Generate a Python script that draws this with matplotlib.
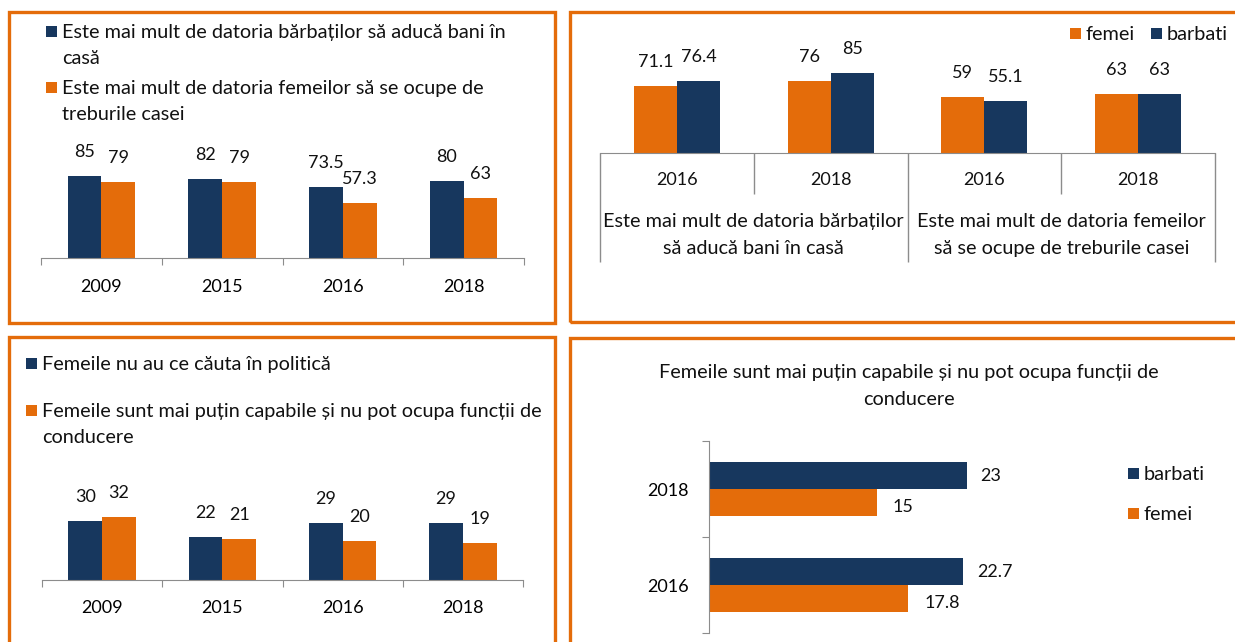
import matplotlib
matplotlib.use("Agg")
import matplotlib.pyplot as plt
from matplotlib.patches import Rectangle

# ── Data ──────────────────────────────────────────────────────────────────────
years_a = ["2009", "2015", "2016", "2018"]
bani_barbati = [85, 82, 73.5, 80]
treburi_femei = [79, 79, 57.3, 63]
label_bani = "Este mai mult de datoria bărbaților să aducă bani în\ncasă"
label_treburi = "Este mai mult de datoria femeilor să se ocupe de\ntreburile casei"

groups_b = ["Este mai mult de datoria bărbaților\nsă aducă bani în casă",
            "Este mai mult de datoria femeilor\nsă se ocupe de treburile casei"]
years_b = ["2016", "2018", "2016", "2018"]
femei_b = [71.1, 76, 59, 63]
barbati_b = [76.4, 85, 55.1, 63]

years_c = ["2009", "2015", "2016", "2018"]
politica = [30, 22, 29, 29]
conducere = [32, 21, 20, 19]
label_politica = "Femeile nu au ce căuta în politică"
label_conducere = "Femeile sunt mai puțin capabile și nu pot ocupa funcții de\nconducere"

years_d = ["2016", "2018"]
barbati_d = [22.7, 23]
femei_d = [17.8, 15]
title_d = "Femeile sunt mai puțin capabile și nu pot ocupa funcții de\nconducere"

# ── Style ─────────────────────────────────────────────────────────────────────
W, H = 1235, 642
NAVY = "#17375E"
ORANGE = "#E46C0A"
GRAY = "#8C8C8C"
NUM_FS = 13      # years and value labels
TXT_FS = 14.3    # legends, group labels, title
LS = 1.72
LINE_PX = 26     # line pitch in the legends
plt.rcParams["font.family"] = ["Lato", "DejaVu Sans"]
plt.rcParams["font.size"] = NUM_FS
plt.rcParams["text.color"] = "#111111"

fig = plt.figure(figsize=(W / 100, H / 100), dpi=100)


def axes_px(x0, y0, x1, y1):
    return fig.add_axes([x0 / W, 1 - y1 / H, (x1 - x0) / W, (y1 - y0) / H])


def border(x0, y0, x1, y1):
    fig.add_artist(Rectangle((x0 / W, 1 - y1 / H), (x1 - x0) / W, (y1 - y0) / H,
                             transform=fig.transFigure, fill=False, ec=ORANGE, lw=2.4))


def legend_entry(x, y, color, text, size=11):
    # square marker + text; y is the centre of the first text line (pixels)
    fig.add_artist(Rectangle((x / W, 1 - (y + size / 2) / H), size / W, size / H,
                             transform=fig.transFigure, color=color, lw=0))
    for k, line in enumerate(text.split("\n")):
        fig.text((x + size + 5) / W, 1 - (y + 7 + k * LINE_PX) / H, line,
                 va="baseline", ha="left", fontsize=TXT_FS)


def clean(ax):
    for s in ax.spines.values():
        s.set_visible(False)
    ax.set_yticks([])


def year_axis(ax, labels, pad_px):
    ax.spines["bottom"].set_visible(True)
    ax.spines["bottom"].set_color(GRAY)
    ax.set_xlim(-0.5, len(labels) - 0.5)
    ax.set_xticks([i - 0.5 for i in range(len(labels) + 1)])
    ax.set_xticklabels([])
    ax.tick_params(axis="x", which="major", length=5, color=GRAY, direction="out")
    ax.set_xticks(range(len(labels)), labels, minor=True)
    ax.tick_params(axis="x", which="minor", length=0, pad=pad_px * 0.72)
    for t in ax.get_xticklabels(minor=True):
        t.set_va("center")


def label_bars(ax, xs, vals):
    for x, v in zip(xs, vals):
        ax.annotate(f"{v:g}", (x, v), xytext=(0, 24), textcoords="offset pixels",
                    ha="center", va="center")


BW = 0.28

# ── Panel 1 ───────────────────────────────────────────────────────────────────
border(9, 12, 555, 323)
ax1 = axes_px(41, 162, 524, 258)
clean(ax1)
x = list(range(len(years_a)))
ax1.bar([i - BW / 2 for i in x], bani_barbati, BW, color=NAVY)
ax1.bar([i + BW / 2 for i in x], treburi_femei, BW, color=ORANGE)
ax1.set_ylim(0, 100)
year_axis(ax1, years_a, 29)
label_bars(ax1, [i - BW / 2 for i in x], bani_barbati)
label_bars(ax1, [i + BW / 2 for i in x], treburi_femei)
legend_entry(46, 31, NAVY, label_bani)
legend_entry(46, 87, ORANGE, label_treburi)

# ── Panel 2 ───────────────────────────────────────────────────────────────────
border(570, 12, 1250, 322)
ax2 = axes_px(600, 58.8, 1215, 153)
clean(ax2)
x = list(range(len(years_b)))
ax2.bar([i - BW / 2 for i in x], femei_b, BW, color=ORANGE)
ax2.bar([i + BW / 2 for i in x], barbati_b, BW, color=NAVY)
ax2.set_ylim(0, 100)
ax2.set_xlim(-0.5, 3.5)
ax2.spines["bottom"].set_visible(True)
ax2.spines["bottom"].set_color(GRAY)
ax2.set_xticks([])
px2 = 94.2
tr = ax2.get_xaxis_transform()
ax2.vlines([0.5, 2.5], 0, -41 / px2, color=GRAY, lw=1, transform=tr, clip_on=False)
ax2.vlines([-0.5, 1.5, 3.5], 0, -109 / px2, color=GRAY, lw=1, transform=tr, clip_on=False)
for i, yr in enumerate(years_b):
    ax2.text(i, -27 / px2, yr, transform=tr, ha="center", va="center")
for g, name in enumerate(groups_b):
    ax2.text(2 * g + 0.5, -82 / px2, name, transform=tr, ha="center", va="center",
             fontsize=TXT_FS, linespacing=LS)
label_bars(ax2, [i - BW / 2 for i in x], femei_b)
label_bars(ax2, [i + BW / 2 for i in x], barbati_b)
legend_entry(1070, 33, ORANGE, "femei")
legend_entry(1151, 33, NAVY, "barbati")

# ── Panel 3 ───────────────────────────────────────────────────────────────────
border(9, 337, 555, 660)
ax3 = axes_px(42, 501.2, 523, 580)
clean(ax3)
x = list(range(len(years_c)))
ax3.bar([i - BW / 2 for i in x], politica, BW, color=NAVY)
ax3.bar([i + BW / 2 for i in x], conducere, BW, color=ORANGE)
ax3.set_ylim(0, 40)
year_axis(ax3, years_c, 28)
label_bars(ax3, [i - BW / 2 for i in x], politica)
label_bars(ax3, [i + BW / 2 for i in x], conducere)
legend_entry(26, 363, NAVY, label_politica)
legend_entry(26, 410, ORANGE, label_conducere)

# ── Panel 4 ───────────────────────────────────────────────────────────────────
border(570, 338, 1250, 660)
ax4 = axes_px(709, 441, 1045, 633)
clean(ax4)
y = list(range(len(years_d)))
ax4.barh([i + BW / 2 for i in y], barbati_d, BW, color=NAVY)
ax4.barh([i - BW / 2 for i in y], femei_d, BW, color=ORANGE)
ax4.set_xlim(0, 30)
ax4.set_ylim(-0.5, 1.5)
ax4.set_xticks([])
ax4.spines["left"].set_visible(True)
ax4.spines["left"].set_color(GRAY)
ax4.set_yticks([-0.5, 0.5, 1.5])
ax4.set_yticklabels([])
ax4.tick_params(axis="y", which="major", length=5, color=GRAY, direction="out")
ax4.set_yticks(y, years_d, minor=True)
ax4.tick_params(axis="y", which="minor", length=0, pad=20 * 0.72)
for i, v in zip(y, barbati_d):
    ax4.annotate(f"{v:g}", (v, i + BW / 2), xytext=(14, 0), textcoords="offset pixels",
                 ha="left", va="center")
for i, v in zip(y, femei_d):
    ax4.annotate(f"{v:g}", (v, i - BW / 2), xytext=(16, -5), textcoords="offset pixels",
                 ha="left", va="center")
fig.text(909 / W, 1 - 386 / H, title_d, ha="center", va="center",
         fontsize=TXT_FS, linespacing=LS)
legend_entry(1128, 473, NAVY, "barbati")
legend_entry(1128, 513, ORANGE, "femei")

fig.savefig("out.png", dpi=100)
